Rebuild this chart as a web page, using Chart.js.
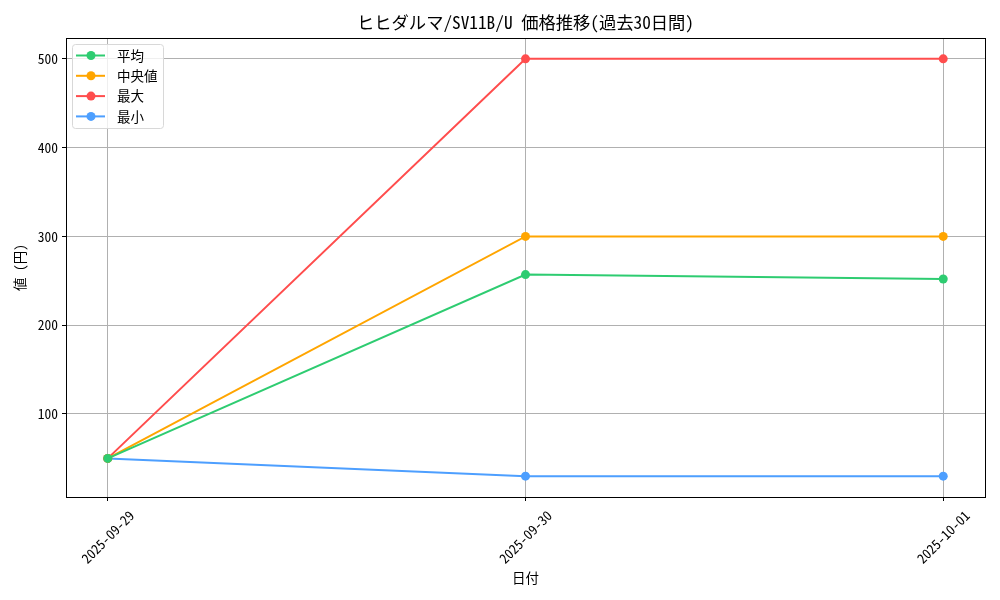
<!DOCTYPE html>
<html>
<head>
<meta charset="utf-8">
<script src="https://cdn.jsdelivr.net/npm/chart.js@4/dist/chart.umd.min.js"></script>
<style>
  html, body { margin: 0; padding: 0; background: #fff; }
  #wrap { width: 1000px; height: 600px; }
</style>
</head>
<body>
<div id="wrap"><canvas id="chart" width="1000" height="600"></canvas></div>
<script>
// --- data ---
const dates = ["2025-09-29", "2025-09-30", "2025-10-01"];
const avgPrices = [50, 257, 252];
const medianPrices = [50, 300, 300];
const maxPrices = [50, 500, 500];
const minPrices = [50, 30, 30];
const yTicks = [100, 200, 300, 400, 500];

const FONT = "'Noto Sans Mono CJK JP', 'Noto Sans CJK JP Mono', 'Liberation Mono', 'Noto Sans CJK JP', monospace";

function toPoints(arr) {
    return arr.map((v, i) => ({ x: i, y: v }));
}

function series(label, values, color) {
    return {
        label: label,
        data: toPoints(values),
        borderColor: color,
        backgroundColor: color,
        borderWidth: 2,
        pointRadius: 4.5,
        pointHoverRadius: 4.5,
        pointBorderWidth: 0,
        tension: 0
    };
}

// title, axis titles, rotated date labels, full frame and the legend box
const decorations = {
    id: "decorations",
    afterDraw(chart) {
        const ctx = chart.ctx;
        const area = chart.chartArea;
        ctx.save();
        ctx.strokeStyle = "#000";
        ctx.lineWidth = 1;
        ctx.strokeRect(Math.round(area.left) + 0.5, Math.round(area.top) + 0.5,
            Math.round(area.right - area.left), Math.round(area.bottom - area.top));

        ctx.fillStyle = "#000";
        ctx.textAlign = "center";
        ctx.textBaseline = "middle";
        ctx.font = "17.3px " + FONT;
        ctx.fillText("ヒヒダルマ/SV11B/U 価格推移(過去30日間)", (area.left + area.right) / 2, 22);

        ctx.font = "13.5px " + FONT;
        ctx.fillText("日付", (area.left + area.right) / 2, 578);

        // date labels, rotated 45° and centred under each tick (matplotlib style)
        const xs = chart.scales.x;
        dates.forEach((d, i) => {
            ctx.save();
            ctx.translate(xs.getPixelForValue(i), area.bottom + 40);
            ctx.rotate(-Math.PI / 4);
            ctx.fillText(d, 0, 0);
            ctx.restore();
        });

        ctx.translate(20, (area.top + area.bottom) / 2);
        ctx.rotate(-Math.PI / 2);
        ctx.fillText("値 (円)", 0, 0);
        ctx.restore();

        // legend
        const sets = chart.data.datasets;
        const lx = area.left + 6, ly = area.top + 6;
        const w = 91, rowH = 20.3, h = 84;
        ctx.save();
        ctx.fillStyle = "rgba(255,255,255,0.8)";
        ctx.strokeStyle = "#d8d8d8";
        ctx.lineWidth = 1;
        ctx.beginPath();
        ctx.roundRect(lx + 0.5, ly + 0.5, w, h, 3);
        ctx.fill();
        ctx.stroke();
        ctx.font = "13.5px " + FONT;
        ctx.textAlign = "left";
        ctx.textBaseline = "middle";
        sets.forEach((ds, i) => {
            const cy = ly + 11.5 + i * rowH;
            ctx.strokeStyle = ds.borderColor;
            ctx.lineWidth = 2;
            ctx.beginPath();
            ctx.moveTo(lx + 4, cy);
            ctx.lineTo(lx + 33, cy);
            ctx.stroke();
            ctx.fillStyle = ds.borderColor;
            ctx.beginPath();
            ctx.arc(lx + 19, cy, 4.5, 0, Math.PI * 2);
            ctx.fill();
            ctx.fillStyle = "#000";
            ctx.fillText(ds.label, lx + 45, cy);
        });
        ctx.restore();
    }
};

const ctx = document.getElementById("chart").getContext("2d");
new Chart(ctx, {
    type: "line",
    data: {
        datasets: [
            series("平均", avgPrices, "#2ecc71"),
            series("中央値", medianPrices, "#ffa500"),
            series("最大", maxPrices, "#ff4d4d"),
            series("最小", minPrices, "#4d9fff")
        ]
    },
    options: {
        responsive: false,
        animation: false,
        layout: { padding: { top: 38, right: 15, left: 0, bottom: 0 } },
        plugins: {
            legend: { display: false },
            tooltip: { enabled: false }
        },
        scales: {
            x: {
                type: "linear",
                min: -0.1,
                max: dates.length - 1 + 0.1,
                afterBuildTicks: (scale) => {
                    scale.ticks = dates.map((d, i) => ({ value: i }));
                },
                afterFit: (scale) => { scale.height = 103; },
                ticks: { display: false },
                grid: { color: "#b0b0b0", lineWidth: 1, tickLength: 4, tickColor: "#000" },
                border: { color: "#000", width: 1 }
            },
            y: {
                min: 6.5,
                max: 523.5,
                afterBuildTicks: (scale) => {
                    scale.ticks = yTicks.map(v => ({ value: v }));
                },
                afterFit: (scale) => { scale.width = 66; },
                ticks: {
                    color: "#000",
                    font: { family: FONT, size: 13.5 },
                    padding: 4
                },
                grid: { color: "#b0b0b0", lineWidth: 1, tickLength: 4, tickColor: "#000" },
                border: { color: "#000", width: 1 }
            }
        }
    },
    plugins: [decorations]
});
</script>
</body>
</html>
